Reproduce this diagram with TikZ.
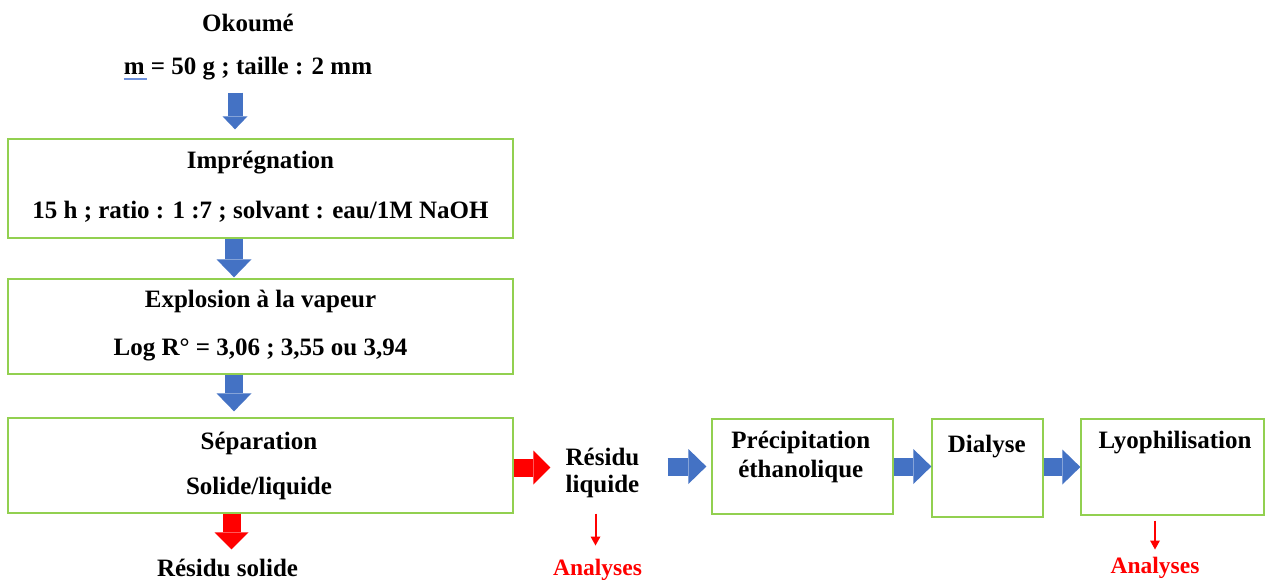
\documentclass[tikz,border=0pt]{standalone}
\usepackage{fontspec}
\setmainfont{Liberation Serif}
\usetikzlibrary{arrows.meta}
\definecolor{boxgreen}{RGB}{146,208,80}
\definecolor{arrblue}{RGB}{68,114,196}
\definecolor{arrred}{RGB}{255,0,0}
\definecolor{spellblue}{RGB}{110,145,220}
\begin{document}
\begin{tikzpicture}[x=1pt,y=-1pt,
  stepbox/.style={draw=boxgreen,line width=1.3pt,inner sep=0pt,rectangle},
  txt/.style={font=\fontsize{25}{30}\selectfont\bfseries,anchor=base,inner sep=0pt},
  redtxt/.style={font=\fontsize{23.5}{27}\selectfont\bfseries,anchor=base,inner sep=0pt,text=arrred},
  bigblue/.style={draw=arrblue,line width=18pt,-{Triangle[width=35pt,length=18pt,line width=0pt]}},
  bigred/.style={draw=arrred,line width=18pt,-{Triangle[width=34pt,length=17pt,line width=0pt]}},
  smallblue/.style={draw=arrblue,line width=15pt,-{Triangle[width=25pt,length=13pt,line width=0pt]}},
  thinred/.style={draw=arrred,line width=2pt,-{Triangle[width=10pt,length=9pt,line width=0pt]}}
]
\useasboundingbox (0,0) rectangle (1265,580);
\fill[white] (0,0) rectangle (1265,580);

% boxes
\node[stepbox,minimum width=505pt,minimum height=99pt] (impr) at (260.5,188.5) {};
\node[stepbox,minimum width=505pt,minimum height=95pt] (expl) at (260.5,326.5) {};
\node[stepbox,minimum width=505pt,minimum height=95pt] (sep) at (260.5,465.5) {};
\node[stepbox,minimum width=181pt,minimum height=95pt] (precip) at (802.5,466.5) {};
\node[stepbox,minimum width=111pt,minimum height=98pt] (dialyse) at (987.5,468) {};
\node[stepbox,minimum width=183pt,minimum height=96pt] (lyo) at (1172.5,467) {};

% texts
\node[txt] (okoume) at (248,32) {Okoumé};
\node[txt] (masse) at (248,75) {m = 50 g ; taille : 2 mm};
\draw[spellblue,line width=1.5pt] ([yshift=-4pt]masse.base west) -- ++(23,0);
\node[txt] (imprt) at (260.5,169) {Imprégnation};
\node[txt] (imprp) at (260.5,218) {15 h ; ratio : 1 :7 ; solvant : eau/1M NaOH};
\node[txt] (explt) at (260.5,307) {Explosion à la vapeur};
\node[txt] (explp) at (260.5,355) {Log R° = 3,06 ; 3,55 ou 3,94};
\node[txt] (sept) at (259,449) {Séparation};
\node[txt] (sepp) at (259,494) {Solide/liquide};
\node[txt] (resol) at (227.5,576) {Résidu solide};
\node[txt] (residu1) at (602.5,465) {Résidu};
\node[txt] (residu2) at (602.5,492) {liquide};
\node[redtxt] (an1) at (597.5,575) {Analyses};
\node[txt] (precipt1) at (800.8,448) {Précipitation};
\node[txt] (precipt2) at (800.8,477) {éthanolique};
\node[txt] (dialyset) at (986.7,452) {Dialyse};
\node[txt] (lyot) at (1175,448) {Lyophilisation};
\node[redtxt] (an2) at (1155,573) {Analyses};

% arrows
\coordinate (ax) at (235,0);
\coordinate (bx) at (234,0);
\coordinate (rx) at (231.5,0);
\draw[smallblue,shorten <=12pt,shorten >=9pt] (masse.south -| ax) -- (impr.north -| ax);
\draw[bigblue,shorten >=1pt] (impr.south -| bx) -- (expl.north -| bx);
\draw[bigblue,shorten >=6pt] (expl.south -| bx) -- (sep.north -| bx);
\draw[bigred,shorten >=9pt] (sep.south -| rx) -- (resol.north -| rx);
\draw[bigred,shorten >=15pt] ([yshift=-2pt]sep.east) -- ([yshift=-2pt]sep.east -| residu1.west);
\draw[bigblue,shorten <=28pt,shorten >=5pt] (residu1.east |- precip.west) -- (precip.west);
\draw[bigblue] (precip.east) -- (precip.east -| dialyse.west);
\draw[bigblue] ([yshift=1pt]dialyse.east) -- ([yshift=1pt]dialyse.east -| lyo.west);
\draw[thinred,shorten <=16pt,shorten >=13pt] ([xshift=-2pt]an1.north |- residu2.south) -- ([xshift=-2pt]an1.north);
\draw[thinred,shorten <=5pt,shorten >=7pt] (an2.north |- lyo.south) -- (an2.north);
\end{tikzpicture}
\end{document}
